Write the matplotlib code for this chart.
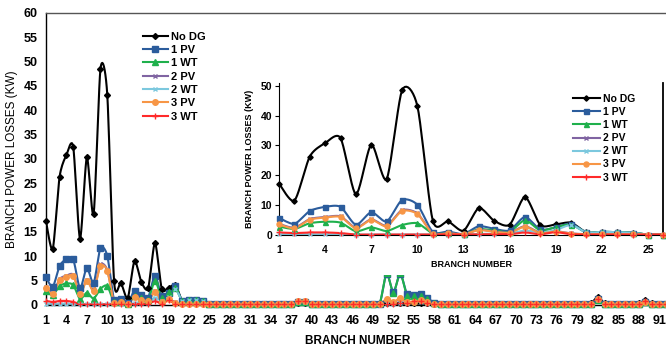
import numpy as np
import matplotlib
matplotlib.use("Agg")
import matplotlib.pyplot as plt

plt.rcParams['font.family'] = ['Liberation Sans Narrow', 'Liberation Sans', 'DejaVu Sans']

# branch numbers 1..92
branches = list(range(1, 93))

# losses per branch (kW)
no_dg = [17.2, 11.5, 26.3, 30.8, 32.5, 13.6, 30.3, 18.7, 48.5, 43.2,
         4.8, 4.5, 1.4, 9.0, 4.7, 3.4, 12.7, 3.3, 3.5, 4.1,
         0.8, 1.0, 0.9, 0.7, 0.1, 0.1,
         0.2, 0.2, 0.2, 0.2, 0.2, 0.2, 0.2, 0.2, 0.2, 0.2,
         0.2, 0.3, 0.3, 0.2, 0.2, 0.2, 0.2, 0.2, 0.2, 0.2,
         0.2, 0.2, 0.2, 0.2, 0.3, 0.3, 0.3, 0.3, 0.3, 0.3,
         0.3, 0.2, 0.2, 0.2, 0.2, 0.2, 0.2, 0.2, 0.2, 0.2,
         0.2, 0.2, 0.2, 0.2, 0.2, 0.2, 0.2, 0.2, 0.2, 0.2,
         0.2, 0.2, 0.2, 0.2, 0.3, 1.6, 0.3, 0.2, 0.2, 0.2,
         0.2, 0.3, 0.9, 0.3, 0.2, 0.2]
pv1 = [5.7, 3.7, 8.0, 9.4, 9.4, 3.4, 7.6, 4.5, 11.7, 10.1,
       1.0, 1.1, 0.3, 2.9, 2.0, 1.5, 6.0, 1.8, 2.5, 3.8,
       0.8, 1.0, 0.9, 0.7, 0.1, 0.1,
       0.1, 0.1, 0.1, 0.1, 0.1, 0.1, 0.1, 0.1, 0.1, 0.1,
       0.1, 0.5, 0.5, 0.1, 0.1, 0.1, 0.1, 0.1, 0.1, 0.1,
       0.1, 0.1, 0.1, 0.2, 6.4, 2.6, 6.4, 2.2, 2.1, 2.2,
       1.5, 0.3, 0.1, 0.1, 0.1, 0.1, 0.1, 0.1, 0.1, 0.1,
       0.1, 0.1, 0.1, 0.1, 0.1, 0.1, 0.1, 0.1, 0.1, 0.1,
       0.1, 0.1, 0.1, 0.1, 0.2, 1.2, 0.2, 0.1, 0.1, 0.1,
       0.1, 0.2, 0.6, 0.2, 0.1, 0.1]
wt1 = [2.8, 2.0, 3.9, 4.4, 4.1, 1.2, 2.5, 1.3, 3.3, 3.9,
       0.5, 0.5, 0.2, 1.9, 1.5, 1.0, 4.9, 1.5, 2.6, 3.4,
       0.8, 1.0, 0.9, 0.7, 0.1, 0.1,
       0.1, 0.1, 0.1, 0.1, 0.1, 0.1, 0.1, 0.1, 0.1, 0.1,
       0.1, 0.5, 0.5, 0.1, 0.1, 0.1, 0.1, 0.1, 0.1, 0.1,
       0.1, 0.1, 0.1, 0.3, 6.5, 2.5, 6.5, 1.9, 1.9, 1.8,
       1.2, 0.3, 0.1, 0.1, 0.1, 0.1, 0.1, 0.1, 0.1, 0.1,
       0.1, 0.1, 0.1, 0.1, 0.1, 0.1, 0.1, 0.1, 0.1, 0.1,
       0.1, 0.1, 0.1, 0.1, 0.2, 1.0, 0.2, 0.1, 0.1, 0.1,
       0.1, 0.2, 0.5, 0.2, 0.1, 0.1]
pv2 = [3.7, 2.4, 5.3, 6.0, 6.2, 2.4, 5.2, 3.1, 8.3, 7.2,
       0.5, 0.6, 0.2, 1.7, 1.1, 0.8, 2.9, 0.7, 1.2, 0.5,
       0.2, 0.2, 0.2, 0.2, 0.1, 0.1,
       0.1, 0.1, 0.1, 0.1, 0.1, 0.1, 0.1, 0.1, 0.1, 0.1,
       0.1, 0.6, 0.6, 0.1, 0.1, 0.1, 0.1, 0.1, 0.1, 0.1,
       0.1, 0.1, 0.1, 0.1, 1.0, 0.5, 1.2, 0.5, 0.5, 0.8,
       0.4, 0.2, 0.1, 0.1, 0.1, 0.1, 0.1, 0.1, 0.1, 0.1,
       0.1, 0.1, 0.1, 0.1, 0.1, 0.1, 0.1, 0.1, 0.1, 0.1,
       0.1, 0.1, 0.1, 0.1, 0.2, 1.0, 0.2, 0.1, 0.1, 0.1,
       0.1, 0.2, 0.5, 0.2, 0.1, 0.1]
wt2 = [0.2, 0.2, 0.2, 0.2, 0.2, 0.1, 0.1, 0.1, 0.1, 0.1,
       0.1, 0.1, 0.1, 0.3, 0.4, 0.4, 1.5, 0.8, 1.6, 3.3,
       0.8, 1.0, 0.9, 0.7, 0.1, 0.1,
       0.1, 0.1, 0.1, 0.1, 0.1, 0.1, 0.1, 0.1, 0.1, 0.1,
       0.1, 0.6, 0.6, 0.1, 0.1, 0.1, 0.1, 0.1, 0.1, 0.1,
       0.1, 0.1, 0.1, 0.1, 0.3, 0.2, 0.4, 0.3, 0.5, 0.5,
       0.3, 0.1, 0.1, 0.1, 0.1, 0.1, 0.1, 0.1, 0.1, 0.1,
       0.1, 0.1, 0.1, 0.1, 0.1, 0.1, 0.1, 0.1, 0.1, 0.1,
       0.1, 0.1, 0.1, 0.1, 0.2, 1.0, 0.2, 0.1, 0.1, 0.1,
       0.1, 0.2, 0.5, 0.2, 0.1, 0.1]
pv3 = [3.5, 2.2, 5.1, 5.8, 6.0, 2.2, 5.0, 2.9, 8.0, 7.0,
       0.4, 0.5, 0.2, 1.6, 1.0, 0.7, 2.7, 0.6, 1.1, 0.4,
       0.2, 0.2, 0.2, 0.2, 0.1, 0.1,
       0.1, 0.1, 0.1, 0.1, 0.1, 0.1, 0.1, 0.1, 0.1, 0.1,
       0.1, 0.7, 0.7, 0.1, 0.1, 0.1, 0.1, 0.1, 0.1, 0.1,
       0.1, 0.1, 0.1, 0.2, 1.2, 0.6, 1.4, 0.6, 0.6, 0.9,
       0.5, 0.2, 0.1, 0.1, 0.1, 0.1, 0.1, 0.1, 0.1, 0.1,
       0.1, 0.1, 0.1, 0.1, 0.1, 0.1, 0.1, 0.1, 0.1, 0.1,
       0.1, 0.1, 0.1, 0.1, 0.2, 1.1, 0.2, 0.1, 0.1, 0.1,
       0.1, 0.2, 0.6, 0.2, 0.1, 0.1]
wt3 = [0.8, 0.6, 0.8, 0.8, 0.6, 0.1, 0.1, 0.1, 0.1, 0.1,
       0.1, 0.1, 0.1, 0.2, 0.2, 0.2, 0.8, 0.2, 0.9, 0.2,
       0.1, 0.1, 0.1, 0.1, 0.1, 0.1,
       0.1, 0.1, 0.1, 0.1, 0.1, 0.1, 0.1, 0.1, 0.1, 0.1,
       0.1, 0.8, 0.8, 0.1, 0.1, 0.1, 0.1, 0.1, 0.1, 0.1,
       0.1, 0.1, 0.1, 0.1, 0.1, 0.2, 0.4, 0.3, 0.7, 0.7,
       0.4, 0.1, 0.1, 0.1, 0.1, 0.1, 0.1, 0.1, 0.1, 0.1,
       0.1, 0.1, 0.1, 0.1, 0.1, 0.1, 0.1, 0.1, 0.1, 0.1,
       0.1, 0.1, 0.1, 0.1, 0.2, 1.2, 0.2, 0.1, 0.1, 0.1,
       0.1, 0.2, 0.7, 0.2, 0.1, 0.1]

labels = ['No DG', '1 PV', '1 WT', '2 PV', '2 WT', '3 PV', '3 WT']
series = [no_dg, pv1, wt1, pv2, wt2, pv3, wt3]
colors = ['black', '#2b5c9c', '#1fb04c', '#8064a2', '#7cc8de', '#f79646', '#ff2a2a']
markers = ['D', 's', '^', 'x', 'x', 'o', '+']
msizes = [3, 4, 4, 3.5, 3, 4, 5]


def smooth(x, y, n=10, s=0.75):
    # cubic Hermite curve through the points (like Excel "smoothed line")
    x = np.asarray(x, float)
    y = np.asarray(y, float)
    t = np.linspace(0, 1, n, endpoint=False)
    h00 = 2 * t**3 - 3 * t**2 + 1
    h10 = t**3 - 2 * t**2 + t
    h01 = -2 * t**3 + 3 * t**2
    h11 = t**3 - t**2
    xs, ys = [], []
    for p, out in ((x, xs), (y, ys)):
        pp = np.concatenate([[p[0]], p, [p[-1]]])
        m = s * (pp[2:] - pp[:-2]) / 2
        for i in range(len(p) - 1):
            out.append(h00 * p[i] + h10 * m[i] + h01 * p[i + 1] + h11 * m[i + 1])
        out.append([p[-1]])
    return np.concatenate(xs), np.concatenate(ys)


def draw(ax, nmax, lw, ms_scale):
    for vals, lab, c, m, ms in zip(series, labels, colors, markers, msizes):
        xv = branches[:nmax]
        yv = vals[:nmax]
        sx, sy = smooth(xv, yv)
        ax.plot(sx, sy, color=c, lw=lw, zorder=2)
        ax.plot(xv, yv, ls='none', marker=m, color=c, ms=ms * ms_scale,
                mew=1.0, zorder=3, clip_on=False)
        # legend proxy
        ax.plot([], [], color=c, lw=lw, marker=m, ms=ms * ms_scale, label=lab)


fig = plt.figure(figsize=(6.66, 3.5), dpi=100)

# ---- main chart ----
ax = fig.add_axes([0.069, 0.129, 0.935, 0.834])
draw(ax, 92, 1.5, 1.0)
ax.set_xlim(1, 92.4)
ax.set_ylim(0, 60)
ax.set_yticks(np.arange(0, 61, 5))
ax.set_xticks(np.arange(1, 92, 3))
ax.tick_params(axis='y', length=0, pad=6, labelsize=9)
ax.tick_params(axis='x', length=0, pad=7, labelsize=9)
for t in ax.get_xticklabels() + ax.get_yticklabels():
    t.set_fontweight('bold')
ax.spines['right'].set_visible(False)
for s in ('left', 'bottom', 'top'):
    ax.spines[s].set_linewidth(1.0)
ax.spines['top'].set_color('#555555')
ax.set_ylabel('BRANCH POWER LOSSES (KW)', fontsize=8.5, labelpad=4)
ax.set_xlabel('BRANCH NUMBER', fontsize=8.5, fontweight='bold', labelpad=6)
ax.legend(loc='upper left', bbox_to_anchor=(0.14, 0.97), frameon=False,
          labelspacing=0.3, handlelength=2.2, handletextpad=0.3,
          prop={'weight': 'bold', 'size': 8})

# ---- inset chart ----
fig.patches.append(plt.Rectangle((0.375, 0.215), 0.625, 0.58, transform=fig.transFigure,
                                 facecolor='white', edgecolor='none', zorder=5))
ins = fig.add_axes([0.419, 0.329, 0.577, 0.434])
ins.set_zorder(6)
draw(ins, 26, 1.5, 0.9)
ins.set_xlim(1, 26)
ins.set_ylim(0, 51)
ins.set_yticks(np.arange(0, 51, 10))
ins.set_xticks(np.arange(1, 26, 3))
ins.tick_params(axis='y', length=3, direction='out', pad=2, labelsize=7.5)
ins.tick_params(axis='x', length=0, pad=7, labelsize=7.5)
for t in ins.get_xticklabels() + ins.get_yticklabels():
    t.set_fontweight('bold')
ins.spines['top'].set_visible(False)
ins.spines['right'].set_linewidth(1.3)
ins.set_ylabel('BRANCH POWER LOSSES (KW)', fontsize=6.5, fontweight='bold', labelpad=5)
ins.set_xlabel('BRANCH NUMBER', fontsize=6.5, fontweight='bold', labelpad=4)
ins.legend(loc='upper left', bbox_to_anchor=(0.74, 0.99), frameon=False,
           labelspacing=0.3, handlelength=2.6, handletextpad=0.3,
           prop={'weight': 'bold', 'size': 7.5})

fig.savefig('out.png', dpi=100)
